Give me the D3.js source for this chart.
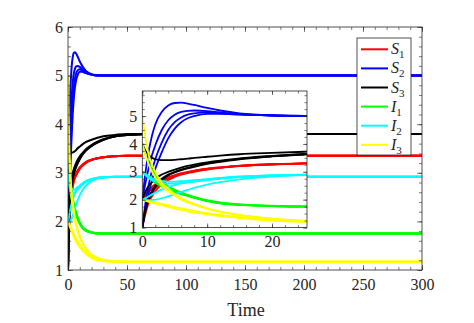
<!DOCTYPE html>
<html>
<head>
<meta charset="utf-8">
<script src="https://cdn.jsdelivr.net/npm/d3@7"></script>
<style>
  html, body { margin: 0; padding: 0; background: #fff; }
  svg { display: block; }
  text { font-family: "Liberation Serif", "Times New Roman", serif; fill: #262626; }
</style>
</head>
<body>
<div id="chart"></div>
<script>
// ---- data ----
const T = [0, 0.5, 1, 1.5, 2, 3, 4, 5, 6, 7, 8, 10, 12, 15, 20, 25, 30, 40, 50, 75, 100, 300];

const S1 = [
  [1, 1.6, 2.0, 2.22, 2.4, 2.6, 2.75, 2.85, 2.92, 2.97, 3.02, 3.1, 3.15, 3.21, 3.27, 3.3, 3.32, 3.34, 3.35, 3.35, 3.35, 3.35],
  [2, 2.2, 2.35, 2.46, 2.55, 2.68, 2.8, 2.88, 2.95, 3.0, 3.04, 3.11, 3.16, 3.22, 3.27, 3.3, 3.32, 3.34, 3.35, 3.35, 3.35, 3.35],
  [1, 1.5, 1.9, 2.12, 2.3, 2.55, 2.7, 2.82, 2.9, 2.95, 3.0, 3.08, 3.14, 3.2, 3.26, 3.3, 3.32, 3.34, 3.35, 3.35, 3.35, 3.35],
  [2, 2.15, 2.3, 2.41, 2.5, 2.65, 2.77, 2.86, 2.93, 2.98, 3.03, 3.1, 3.15, 3.21, 3.27, 3.3, 3.32, 3.34, 3.35, 3.35, 3.35, 3.35]
];
const S2 = [
  [2, 3.0, 3.75, 4.3, 4.7, 5.15, 5.38, 5.47, 5.48, 5.45, 5.4, 5.29, 5.2, 5.1, 5.03, 5.01, 5.0, 5, 5, 5, 5, 5],
  [2, 2.6, 3.15, 3.6, 3.95, 4.5, 4.85, 5.05, 5.15, 5.19, 5.2, 5.18, 5.13, 5.07, 5.02, 5.0, 5, 5, 5, 5, 5, 5],
  [1, 1.9, 2.55, 3.05, 3.45, 4.05, 4.5, 4.78, 4.95, 5.05, 5.1, 5.13, 5.1, 5.06, 5.02, 5.0, 5, 5, 5, 5, 5, 5],
  [1, 1.7, 2.25, 2.7, 3.1, 3.7, 4.2, 4.55, 4.78, 4.92, 5.0, 5.08, 5.08, 5.05, 5.02, 5.0, 5, 5, 5, 5, 5, 5]
];
const S3 = [
  [4, 3.75, 3.6, 3.5, 3.45, 3.42, 3.42, 3.43, 3.45, 3.47, 3.5, 3.54, 3.58, 3.63, 3.68, 3.72, 3.75, 3.78, 3.8, 3.8, 3.8, 3.8],
  [1, 1.7, 2.1, 2.32, 2.5, 2.75, 2.9, 3.0, 3.08, 3.14, 3.2, 3.3, 3.37, 3.46, 3.56, 3.63, 3.68, 3.75, 3.78, 3.8, 3.8, 3.8],
  [2, 2.3, 2.5, 2.63, 2.75, 2.9, 3.0, 3.08, 3.15, 3.21, 3.26, 3.34, 3.4, 3.48, 3.57, 3.64, 3.69, 3.75, 3.78, 3.8, 3.8, 3.8],
  [1, 1.6, 2.0, 2.25, 2.45, 2.7, 2.87, 2.98, 3.06, 3.12, 3.18, 3.28, 3.36, 3.45, 3.55, 3.62, 3.68, 3.75, 3.78, 3.8, 3.8, 3.8]
];
const I1 = [
  [4, 3.6, 3.3, 3.08, 2.9, 2.65, 2.48, 2.35, 2.25, 2.16, 2.08, 1.96, 1.88, 1.82, 1.77, 1.75, 1.75, 1.75, 1.75, 1.75, 1.75, 1.75],
  [3, 2.92, 2.84, 2.77, 2.7, 2.57, 2.45, 2.34, 2.25, 2.17, 2.1, 1.98, 1.9, 1.83, 1.78, 1.76, 1.75, 1.75, 1.75, 1.75, 1.75, 1.75],
  [3, 2.9, 2.8, 2.72, 2.64, 2.5, 2.4, 2.3, 2.21, 2.14, 2.07, 1.96, 1.88, 1.81, 1.77, 1.75, 1.75, 1.75, 1.75, 1.75, 1.75, 1.75],
  [3, 2.88, 2.78, 2.69, 2.6, 2.47, 2.37, 2.28, 2.2, 2.13, 2.06, 1.95, 1.87, 1.81, 1.77, 1.75, 1.75, 1.75, 1.75, 1.75, 1.75, 1.75]
];
const I2 = [
  [3, 2.9, 2.82, 2.76, 2.72, 2.67, 2.65, 2.65, 2.66, 2.68, 2.7, 2.74, 2.78, 2.83, 2.87, 2.9, 2.91, 2.92, 2.92, 2.92, 2.92, 2.92],
  [3, 2.88, 2.78, 2.71, 2.66, 2.6, 2.58, 2.58, 2.6, 2.62, 2.65, 2.7, 2.75, 2.81, 2.86, 2.89, 2.91, 2.92, 2.92, 2.92, 2.92, 2.92],
  [2, 1.98, 1.98, 1.99, 2.0, 2.05, 2.12, 2.2, 2.28, 2.35, 2.42, 2.54, 2.63, 2.73, 2.83, 2.88, 2.9, 2.92, 2.92, 2.92, 2.92, 2.92],
  [2, 2.05, 2.12, 2.19, 2.25, 2.36, 2.45, 2.52, 2.58, 2.62, 2.66, 2.72, 2.77, 2.82, 2.87, 2.9, 2.91, 2.92, 2.92, 2.92, 2.92, 2.92]
];
const I3 = [
  [5, 4.2, 3.6, 3.25, 3.0, 2.6, 2.4, 2.2, 2.05, 1.95, 1.85, 1.7, 1.58, 1.45, 1.32, 1.25, 1.21, 1.18, 1.17, 1.17, 1.17, 1.17],
  [4, 3.6, 3.25, 3.0, 2.8, 2.5, 2.3, 2.15, 2.0, 1.9, 1.82, 1.67, 1.56, 1.44, 1.31, 1.24, 1.2, 1.18, 1.17, 1.17, 1.17, 1.17],
  [2, 1.98, 1.95, 1.93, 1.9, 1.85, 1.8, 1.74, 1.69, 1.64, 1.6, 1.52, 1.45, 1.37, 1.27, 1.21, 1.19, 1.17, 1.17, 1.17, 1.17, 1.17],
  [2, 1.96, 1.92, 1.89, 1.86, 1.8, 1.74, 1.68, 1.63, 1.58, 1.54, 1.47, 1.41, 1.34, 1.25, 1.2, 1.18, 1.17, 1.17, 1.17, 1.17, 1.17]
];

const seriesNames = ["S1", "S2", "S3", "I1", "I2", "I3"];
const seriesLetters = ["S", "S", "S", "I", "I", "I"];
const seriesSubs = ["1", "2", "3", "1", "2", "3"];
const seriesColors = ["#ff0000", "#0000ff", "#000000", "#00ff00", "#00ffff", "#ffff00"];
const seriesData = [S1, S2, S3, I1, I2, I3];

const mainXTicks = [0, 50, 100, 150, 200, 250, 300];
const mainYTicks = [1, 2, 3, 4, 5, 6];
const insetXTicks = [0, 10, 20];
const insetYTicks = [1, 2, 3, 4, 5];
const xLabel = "Time";

// ---- layout ----
const W = 474, H = 323;
const svg = d3.select("#chart").append("svg").attr("width", W).attr("height", H);

function drawPanel(g, x, y, xt, yt, opts) {
  const [x0, x1] = x.range();
  const [y0, y1] = y.range(); // y0 bottom, y1 top
  const id = opts.id;
  g.append("rect").attr("x", x0).attr("y", y1).attr("width", x1 - x0).attr("height", y0 - y1).attr("fill", "#fff");
  g.append("clipPath").attr("id", id).append("rect")
    .attr("x", x0).attr("y", y1).attr("width", x1 - x0).attr("height", y0 - y1);

  const lines = g.append("g").attr("clip-path", `url(#${id})`);
  seriesData.forEach((arr, si) => {
    arr.forEach(traj => {
      const pts = T.map((t, i) => [t, traj[i]]);
      const line = d3.line().x(d => x(d[0])).y(d => y(d[1])).curve(d3.curveMonotoneX);
      lines.append("path").attr("d", line(pts)).attr("fill", "none")
        .attr("stroke", seriesColors[si]).attr("stroke-width", opts.lw);
    });
  });

  const minorX = d3.range(x.domain()[0], x.domain()[1] + 1e-9, opts.minorX);
  const minorY = d3.range(y.domain()[0], y.domain()[1] + 1e-9, opts.minorY);

  const styleAxis = a => {
    a.select(".domain").remove();
    a.selectAll("line").attr("stroke", "#262626").attr("stroke-width", 0.6);
    a.selectAll("text").style("font-family", "'Liberation Serif', serif").style("font-size", opts.fs + "px").attr("fill", "#262626");
  };
  // bottom
  g.append("g").attr("transform", `translate(0,${y0})`)
    .call(d3.axisBottom(x).tickValues(xt).tickSizeInner(-opts.major).tickSizeOuter(0).tickPadding(opts.xpad).tickFormat(d3.format("d"))).call(styleAxis);
  g.append("g").attr("transform", `translate(0,${y0})`)
    .call(d3.axisBottom(x).tickValues(minorX).tickSizeInner(-opts.minor).tickSizeOuter(0).tickFormat("")).call(styleAxis);
  // top
  g.append("g").attr("transform", `translate(0,${y1})`)
    .call(d3.axisTop(x).tickValues(xt).tickSizeInner(-opts.major).tickSizeOuter(0).tickFormat("")).call(styleAxis);
  g.append("g").attr("transform", `translate(0,${y1})`)
    .call(d3.axisTop(x).tickValues(minorX).tickSizeInner(-opts.minor).tickSizeOuter(0).tickFormat("")).call(styleAxis);
  // left
  g.append("g").attr("transform", `translate(${x0},0)`)
    .call(d3.axisLeft(y).tickValues(yt).tickSizeInner(-opts.major).tickSizeOuter(0).tickPadding(opts.ypad).tickFormat(d3.format("d"))).call(styleAxis);
  g.append("g").attr("transform", `translate(${x0},0)`)
    .call(d3.axisLeft(y).tickValues(minorY).tickSizeInner(-opts.minor).tickSizeOuter(0).tickFormat("")).call(styleAxis);
  // right
  g.append("g").attr("transform", `translate(${x1},0)`)
    .call(d3.axisRight(y).tickValues(yt).tickSizeInner(-opts.major).tickSizeOuter(0).tickFormat("")).call(styleAxis);
  g.append("g").attr("transform", `translate(${x1},0)`)
    .call(d3.axisRight(y).tickValues(minorY).tickSizeInner(-opts.minor).tickSizeOuter(0).tickFormat("")).call(styleAxis);

  g.append("rect").attr("x", x0).attr("y", y1).attr("width", x1 - x0).attr("height", y0 - y1)
    .attr("fill", "none").attr("stroke", "#262626").attr("stroke-width", 0.8);
}

// main panel
const xMain = d3.scaleLinear().domain([0, 300]).range([68, 422]);
const yMain = d3.scaleLinear().domain([1, 6]).range([270, 27]);
const gMain = svg.append("g");
drawPanel(gMain, xMain, yMain, mainXTicks, mainYTicks,
  { id: "clipMain", lw: 2, major: 5, minor: 3, minorX: 10, minorY: 0.2, fs: 16, xpad: 9, ypad: 5 });

gMain.append("text").attr("x", 246).attr("y", 316).attr("text-anchor", "middle")
  .style("font-size", "18px").text(xLabel);

// inset panel
const xIn = d3.scaleLinear().domain([0, 25.4]).range([142.3, 307]);
const yIn = d3.scaleLinear().domain([1, 5.9]).range([227.5, 91]);
const gIn = svg.append("g");
drawPanel(gIn, xIn, yIn, insetXTicks, insetYTicks,
  { id: "clipIn", lw: 1.8, major: 4, minor: 2.5, minorX: 2, minorY: 0.25, fs: 16, xpad: 8, ypad: 5 });

// legend
const leg = svg.append("g");
leg.append("rect").attr("x", 357).attr("y", 38).attr("width", 54).attr("height", 117)
  .attr("fill", "#fff").attr("stroke", "#262626").attr("stroke-width", 0.8);
seriesNames.forEach((n, i) => {
  const cy = 49.3 + i * 19.1;
  leg.append("line").attr("x1", 361).attr("x2", 388).attr("y1", cy).attr("y2", cy)
    .attr("stroke", seriesColors[i]).attr("stroke-width", 2);
  const t = leg.append("text").attr("x", 391).attr("y", cy + 5).style("font-size", "16px");
  t.append("tspan").style("font-style", "italic").text(seriesLetters[i]);
  t.append("tspan").attr("dy", 4).style("font-size", "11px").text(seriesSubs[i]);
});
</script>
</body>
</html>
